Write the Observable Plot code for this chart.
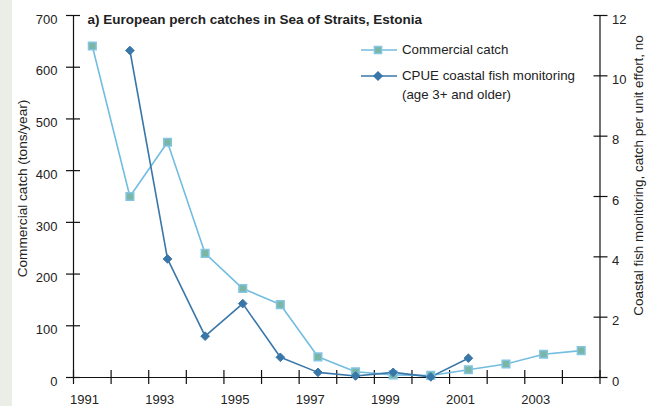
<!DOCTYPE html>
<html><head><meta charset="utf-8">
<script src="https://cdn.jsdelivr.net/npm/d3@7"></script>
<script src="https://cdn.jsdelivr.net/npm/@observablehq/plot@0.6"></script>
<style>
body{margin:0;background:#fff;font-family:"Liberation Sans",Arial,sans-serif;}
#wrap{position:relative;width:659px;height:406px;overflow:hidden;background:linear-gradient(to right,#ebede7 0,#ebede7 12px,#fff 12px);}
.leg{position:absolute;font-size:13.3px;color:#222;white-space:nowrap;line-height:14px;}
.sw{position:absolute;}
</style></head><body>
<div id="wrap"><div id="chart"></div>
<svg class="sw" style="left:359px;top:40px" width="40" height="20" id="sw1"></svg>
<div class="leg" style="left:402px;top:43px">Commercial catch</div>
<svg class="sw" style="left:359px;top:66px" width="40" height="20" id="sw2"></svg>
<div class="leg" style="left:402px;top:69px">CPUE coastal fish monitoring</div>
<div class="leg" style="left:402px;top:88px">(age 3+ and older)</div>
</div>
<script>
const titleText = "a) European perch catches in Sea of Straits, Estonia";
const leftTitle = "Commercial catch (tons/year)";
const rightTitle = "Coastal fish monitoring, catch per unit effort, no";

const years = [1991,1992,1993,1994,1995,1996,1997,1998,1999,2000,2001,2002,2003,2004];
const commercialCatch = [641,350,455,240,172,141,40,11,5,4,15,26,45,52];

const cpueYears = [1992,1993,1994,1995,1996,1997,1998,1999,2000,2001];
const cpue = [10.84,3.93,1.37,2.45,0.67,0.17,0.05,0.17,0.02,0.64];

const xBoundaries = [1991,1992,1993,1994,1995,1996,1997,1998,1999,2000,2001,2002,2003,2004,2005];
const xLabelYears = [1991,1993,1995,1997,1999,2001,2003];
const leftTicks = [0,100,200,300,400,500,600,700];
const rightTicks = [0,2,4,6,8,10,12];

const leftMax = 700, rightMax = 12;
const k = leftMax / rightMax;

const commColor = "#72bde0", commFill = "#7bb5a3", commStroke = "#82c6e4";
const cpueColor = "#3a77a9";
const ink = "#111";

const commData = years.map((y, i) => ({year: y, value: commercialCatch[i]}));
const cpueData = cpueYears.map((y, i) => ({year: y, value: cpue[i] * k}));
const mid = d => d.year + 0.5;

const chart = Plot.plot({
  width: 659, height: 406,
  marginLeft: 73, marginRight: 59.5, marginTop: 15, marginBottom: 29,
  style: {background: "transparent", fontFamily: "'Liberation Sans', Arial, sans-serif", fontSize: "13px", color: "#222", overflow: "visible"},
  x: {domain: [xBoundaries[0], xBoundaries[xBoundaries.length - 1]], axis: null},
  y: {domain: [0, leftMax], axis: null},
  marks: [
    Plot.ruleX([xBoundaries[0], xBoundaries[xBoundaries.length - 1]], {stroke: ink, strokeWidth: 1.2}),
    Plot.ruleY([0], {stroke: ink, strokeWidth: 1.2}),
    Plot.axisX(xBoundaries, {anchor: "bottom", label: null, tickSize: 14, dy: -7, tickFormat: () => "", stroke: ink, strokeWidth: 1.2}),
    Plot.axisX(xLabelYears, {anchor: "bottom", label: null, tickSize: 0, tickPadding: 17, dx: 11, tickFormat: d => String(d)}),
    Plot.axisY(leftTicks, {anchor: "left", label: null, tickSize: 14, dx: 7, tickFormat: () => "", stroke: ink, strokeWidth: 1.2}),
    Plot.axisY(leftTicks, {anchor: "left", label: null, tickSize: 0, tickPadding: 16, dy: 4, tickFormat: d => String(d)}),
    Plot.axisY(rightTicks.map(v => v * k), {anchor: "right", label: null, tickSize: 14, dx: -7, tickFormat: () => "", stroke: ink, strokeWidth: 1.2}),
    Plot.axisY(rightTicks.map(v => v * k), {anchor: "right", label: null, tickSize: 0, tickPadding: 12, dy: 4, tickFormat: d => String(Math.round(d / k))}),
    Plot.text([leftTitle], {frameAnchor: "left", textAnchor: "middle", rotate: -90, dx: -51, dy: -8, fontSize: 13.6, fill: "#222"}),
    Plot.text([rightTitle], {frameAnchor: "right", textAnchor: "middle", rotate: -90, dx: 38.5, dy: -21, fontSize: 13.4, fill: "#222"}),
    Plot.text([titleText], {frameAnchor: "top-left", textAnchor: "start", dx: 14, dy: -1, fontWeight: "bold", fontSize: 13.5, fill: "#222"}),
    Plot.line(commData, {x: mid, y: "value", stroke: commColor, strokeWidth: 1.6}),
    Plot.line(cpueData, {x: mid, y: "value", stroke: cpueColor, strokeWidth: 1.6}),
    Plot.dot(commData, {x: mid, y: "value", symbol: "square", r: 4.3, fill: commFill, stroke: commStroke, strokeWidth: 1.5}),
    Plot.dot(cpueData, {x: mid, y: "value", symbol: "diamond2", r: 3.9, fill: cpueColor, stroke: cpueColor, strokeWidth: 1})
  ]
});
document.getElementById("chart").appendChild(chart);

function swatch(id, color, sym, fill, stroke, r) {
  const s = d3.select("#" + id);
  s.append("line").attr("x1", 2).attr("x2", 38).attr("y1", 10).attr("y2", 10).attr("stroke", color).attr("stroke-width", 1.6);
  s.append("path").attr("transform", "translate(19,10)")
    .attr("d", d3.symbol(sym, Math.PI * r * r)())
    .attr("fill", fill).attr("stroke", stroke).attr("stroke-width", 1.5);
}
swatch("sw1", commColor, d3.symbolSquare, commFill, commStroke, 4);
swatch("sw2", cpueColor, d3.symbolDiamond2, cpueColor, cpueColor, 3.6);
</script>
</body></html>
